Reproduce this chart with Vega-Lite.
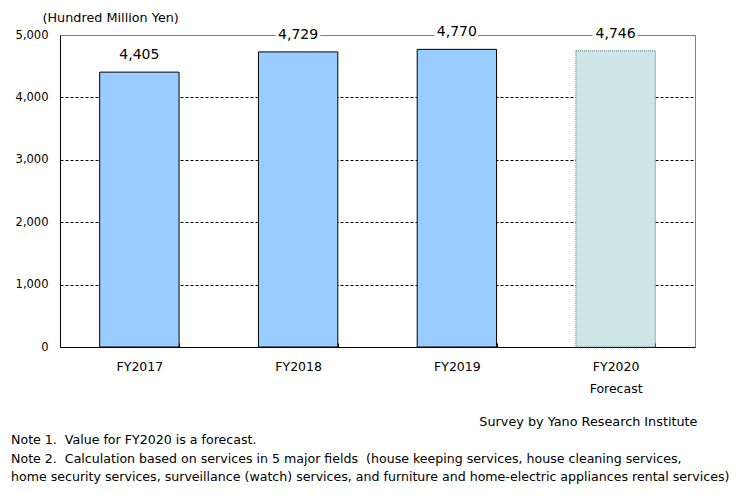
{
  "$schema": "https://vega.github.io/schema/vega-lite/v6.json",
  "width": 635,
  "height": 312,
  "autosize": {"type": "none"},
  "padding": {"left": 60, "top": 35, "right": 49, "bottom": 152},
  "background": "white",
  "config": {
    "font": "DejaVu Sans",
    "view": {"stroke": "#808080", "strokeWidth": 1},
    "axis": {
      "labelFont": "DejaVu Sans",
      "labelColor": "black",
      "titleFont": "DejaVu Sans",
      "titleFontSize": 12.8,
      "titleFontWeight": "normal",
      "titleColor": "black"
    }
  },
  "title": {
    "text": [
      "Note 1.\u00a0\u00a0Value for FY2020 is a forecast.",
      "Note 2.\u00a0\u00a0Calculation based on services in 5 major fields\u00a0\u00a0(house keeping services, house cleaning services,",
      "home security services, surveillance (watch) services, and furniture and home-electric appliances rental services)"
    ],
    "orient": "bottom",
    "anchor": "start",
    "frame": "group",
    "align": "left",
    "baseline": "top",
    "dx": -49,
    "offset": 6,
    "font": "DejaVu Sans",
    "fontSize": 12.6,
    "fontWeight": "normal",
    "color": "black",
    "lineHeight": 18.8
  },
  "data": {
    "values": [
      {"year": "FY2017", "value": 4405, "type": "actual"},
      {"year": "FY2018", "value": 4729, "type": "actual"},
      {"year": "FY2019", "value": 4770, "type": "actual"},
      {"year": "FY2020", "value": 4746, "type": "forecast"}
    ]
  },
  "encoding": {
    "x": {
      "field": "year",
      "type": "nominal",
      "sort": null,
      "scale": {"paddingInner": 0.5, "paddingOuter": 0.25},
      "axis": {
        "labelAngle": 0,
        "labelFontSize": 12.5,
        "domainColor": "black",
        "tickColor": "black",
        "tickBand": "extent",
        "tickSize": -4,
        "labelPadding": 17,
        "labelExpr": "datum.value == 'FY2020' ? ['FY2020', 'Forecast'] : datum.value",
        "labelLineHeight": 22,
        "grid": false,
        "title": "Survey by Yano Research Institute",
        "titleX": 637,
        "titleY": 74,
        "titleAlign": "right",
        "titleBaseline": "middle"
      }
    },
    "y": {
      "field": "value",
      "type": "quantitative",
      "scale": {"domain": [0, 5000]},
      "axis": {
        "values": [0, 1000, 2000, 3000, 4000, 5000],
        "format": ",d",
        "labelFontSize": 11.5,
        "ticks": false,
        "labelPadding": 12,
        "domainColor": "black",
        "grid": true,
        "gridColor": "black",
        "gridDash": [3, 2],
        "gridOpacity": {"condition": {"test": "datum.value == 0 || datum.value == 5000", "value": 0}, "value": 1},
        "title": "(Hundred Million Yen)",
        "titleAngle": 0,
        "titleAlign": "left",
        "titleBaseline": "middle",
        "titleX": -18,
        "titleY": -18
      }
    }
  },
  "layer": [
    {
      "transform": [{"filter": "datum.type == 'actual'"}],
      "mark": {"type": "bar", "fill": "#99CCFF", "stroke": "black", "strokeWidth": 1}
    },
    {
      "transform": [{"filter": "datum.type == 'forecast'"}],
      "mark": {"type": "bar", "fill": "#cde6e8", "stroke": "#4f6f6f", "strokeWidth": 1, "strokeDash": [1, 1]}
    },
    {
      "mark": {"type": "text", "dy": -17, "baseline": "middle", "fontSize": 14, "font": "DejaVu Sans", "fill": "white", "stroke": "white", "strokeWidth": 6},
      "encoding": {"text": {"field": "value", "format": ","}}
    },
    {
      "mark": {"type": "text", "dy": -17, "baseline": "middle", "fontSize": 14, "font": "DejaVu Sans", "fill": "black"},
      "encoding": {"text": {"field": "value", "format": ","}}
    }
  ]
}
